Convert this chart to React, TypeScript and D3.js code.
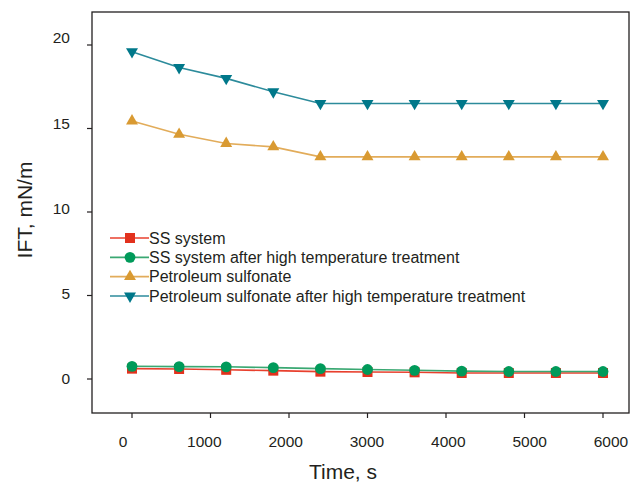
import * as d3 from 'd3';

// time axis, s
const times = [0, 600, 1200, 1800, 2400, 3000, 3600, 4200, 4800, 5400, 6000];

const ssSystem = [0.62, 0.6, 0.55, 0.5, 0.44, 0.42, 0.4, 0.36, 0.36, 0.36, 0.36];
const ssAfterHT = [0.76, 0.74, 0.73, 0.68, 0.62, 0.57, 0.52, 0.47, 0.45, 0.45, 0.45];
const petroleum = [15.45, 14.65, 14.1, 13.9, 13.3, 13.3, 13.3, 13.3, 13.3, 13.3, 13.3];
const petroleumAfterHT = [19.6, 18.65, 18.0, 17.2, 16.5, 16.5, 16.5, 16.5, 16.5, 16.5, 16.5];

const seriesNames = [
  'SS system',
  'SS system after high temperature treatment',
  'Petroleum sulfonate',
  'Petroleum sulfonate after high temperature treatment',
];

const xTicks = [0, 1000, 2000, 3000, 4000, 5000, 6000];
const yTicks = [0, 5, 10, 15, 20];

const FONT = '"Liberation Sans", Arial, sans-serif';
const AXIS = '#231f20';

const series = [
  { name: seriesNames[0], values: ssSystem, marker: 'square', fill: '#e2311d', stroke: '#e8402e' },
  { name: seriesNames[1], values: ssAfterHT, marker: 'circle', fill: '#009a5a', stroke: '#3aa872' },
  { name: seriesNames[2], values: petroleum, marker: 'up', fill: '#d99a32', stroke: '#e2ac5a' },
  { name: seriesNames[3], values: petroleumAfterHT, marker: 'down', fill: '#00788a', stroke: '#2c8b9b' },
];

function Marker({ kind, x, y, fill }: { kind: string; x: number; y: number; fill: string }) {
  if (kind === 'circle') return <circle cx={x} cy={y} r={5.4} fill={fill} />;
  if (kind === 'square') return <rect x={x - 5} y={y - 5} width={10} height={10} fill={fill} />;
  const tri = d3.symbol().type(d3.symbolTriangle).size(62)() as string;
  const rot = kind === 'down' ? 180 : 0;
  return <path d={tri} transform={`translate(${x},${y}) rotate(${rot})`} fill={fill} />;
}

export default function App() {
  const left = 92, top = 12, right = 629, bottom = 413;

  const x = d3.scaleLinear().domain([0, 6000]).range([132, 603]);
  const y = d3.scaleLinear().domain([0, 20]).range([379, 45]);
  // tick labels in the original sit on a slightly wider spacing than the ticks
  const xLab = d3.scaleLinear().domain([0, 6000]).range([123, 611]);
  const yLab = d3.scaleLinear().domain([0, 20]).range([379, 38]);

  const line = d3.line<number>()
    .x((_, i) => x(times[i]))
    .y(d => y(d));

  const legendY = d3.scalePoint<string>().domain(seriesNames).range([238, 296]);

  return (
    <div style={{ position: 'absolute', left: 0, top: 0 }}>
      <svg width={633} height={488} style={{ display: 'block', background: '#fff' }} fontFamily={FONT}>
        <rect x={left} y={top} width={right - left} height={bottom - top} fill="none" stroke={AXIS} strokeWidth={1.3} />

        {yTicks.map(t => (
          <g key={'y' + t}>
            <line x1={left - 5} x2={left} y1={y(t)} y2={y(t)} stroke={AXIS} strokeWidth={1.2} />
            <text x={70} y={yLab(t)} dy="0.35em" textAnchor="end" fontSize={15.5} fill={AXIS}>{t}</text>
          </g>
        ))}

        {xTicks.map(t => (
          <g key={'x' + t}>
            <line x1={x(t)} x2={x(t)} y1={bottom} y2={bottom + 5} stroke={AXIS} strokeWidth={1.2} />
            <text x={xLab(t)} y={442} dy="0.35em" textAnchor="middle" fontSize={15.5} fill={AXIS}>{t}</text>
          </g>
        ))}

        <text x={343} y={472} dy="0.35em" textAnchor="middle" fontSize={21} fill={AXIS}>Time, s</text>
        <text transform="translate(25,210) rotate(-90)" dy="0.35em" textAnchor="middle" fontSize={21} fill={AXIS}>IFT, mN/m</text>

        {series.map(s => (
          <g key={s.name}>
            <path d={line(s.values) as string} fill="none" stroke={s.stroke} strokeWidth={1.6} />
            {s.values.map((v, i) => (
              <Marker key={i} kind={s.marker} x={x(times[i])} y={y(v)} fill={s.fill} />
            ))}
          </g>
        ))}

        {series.map(s => {
          const ly = legendY(s.name) as number;
          return (
            <g key={'lg' + s.name}>
              <line x1={110} x2={149} y1={ly} y2={ly} stroke={s.stroke} strokeWidth={1.6} />
              <Marker kind={s.marker} x={130} y={ly} fill={s.fill} />
              <text x={149} y={ly} dy="0.35em" fontSize={16} fill={AXIS}>{s.name}</text>
            </g>
          );
        })}
      </svg>
    </div>
  );
}
